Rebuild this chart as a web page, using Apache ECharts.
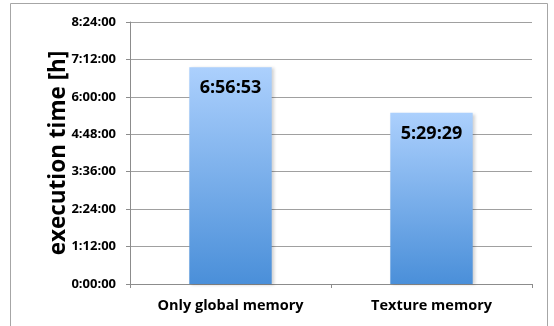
<!DOCTYPE html>
<html>
<head>
<meta charset="utf-8">
<script src="https://cdn.jsdelivr.net/npm/echarts@6/dist/echarts.min.js"></script>
<style>
  html, body { margin: 0; padding: 0; background: #fff; }
  #chart { width: 554px; height: 326px; }
</style>
</head>
<body>
<div id="chart"></div>
<script>
  // categories and measured execution times (h:mm:ss)
  var categories = ['Only global memory', 'Texture memory'];
  var execTimes = ['6:56:53', '5:29:29'];
  // y axis: 0:00:00 .. 8:24:00 in steps of 1:12:00 (seconds)
  var yMax = 30240;
  var yStep = 4320;

  function toSeconds(s) {
    var p = s.split(':').map(Number);
    return p[0] * 3600 + p[1] * 60 + p[2];
  }
  function toHms(v) {
    v = Math.round(v);
    var h = Math.floor(v / 3600);
    var m = Math.floor((v % 3600) / 60);
    var s = v % 60;
    return h + ':' + (m < 10 ? '0' : '') + m + ':' + (s < 10 ? '0' : '') + s;
  }

  var fontFam = '"Open Sans", "Liberation Sans", sans-serif';
  var chart = echarts.init(document.getElementById('chart'));

  chart.setOption({
    animation: false,
    graphic: [{
      type: 'rect',
      shape: {x: 10.5, y: 3.5, width: 537, height: 340},
      style: {fill: 'none', stroke: '#a6a6a6', lineWidth: 1}
    }],
    grid: {left: 130, right: 22, top: 22, bottom: 42},
    xAxis: {
      type: 'category',
      data: categories,
      axisLine: {lineStyle: {color: '#8c8c8c'}},
      axisTick: {show: true, length: 4, lineStyle: {color: '#8c8c8c'}},
      axisLabel: {color: '#000', fontWeight: 'bold', fontSize: 14.5, fontFamily: fontFam, margin: 14}
    },
    yAxis: {
      type: 'value',
      min: 0,
      max: yMax,
      interval: yStep,
      name: 'execution time [h]',
      nameLocation: 'middle',
      nameGap: 60,
      nameMoveOverlap: false,
      nameTextStyle: {color: '#000', fontWeight: 'bold', fontSize: 22.5, fontFamily: fontFam},
      axisLine: {show: true, lineStyle: {color: '#8c8c8c'}},
      axisTick: {show: true, length: 4, lineStyle: {color: '#8c8c8c'}},
      axisLabel: {
        color: '#000', fontWeight: 'bold', fontSize: 13, fontFamily: fontFam, margin: 14,
        formatter: function (v) { return toHms(v); }
      },
      splitLine: {lineStyle: {color: '#a0a0a0'}}
    },
    series: [{
      type: 'bar',
      barWidth: '41%',
      data: execTimes.map(toSeconds),
      itemStyle: {
        color: new echarts.graphic.LinearGradient(0, 0, 0, 1, [
          {offset: 0, color: '#acd0fd'},
          {offset: 1, color: '#4a8fd9'}
        ]),
        shadowColor: 'rgba(0,0,0,0.18)',
        shadowBlur: 3,
        shadowOffsetX: 2,
        shadowOffsetY: 1
      },
      label: {
        show: true,
        position: 'insideTop',
        distance: 12,
        color: '#000',
        fontWeight: 'bold',
        fontSize: 18,
        fontFamily: fontFam,
        formatter: function (p) { return toHms(p.value); }
      }
    }]
  });
</script>
</body>
</html>
